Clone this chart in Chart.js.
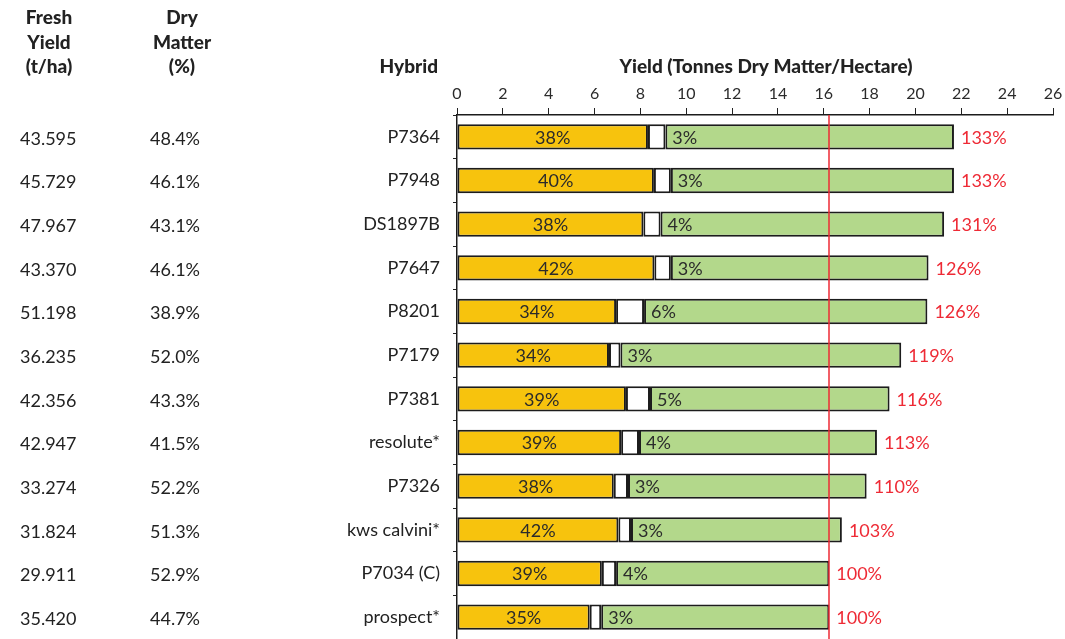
<!DOCTYPE html>
<html>
<head>
<meta charset="utf-8">
<script src="https://cdn.jsdelivr.net/npm/chart.js@4/dist/chart.umd.min.js"></script>
<style>
  html, body { margin: 0; padding: 0; background: #fff; }
  #wrap { width: 1065px; height: 639px; position: relative; }
</style>
</head>
<body>
<div id="wrap"><canvas id="yieldChart"></canvas></div>
<script>
// hybrids, top to bottom
const hybrids = ['P7364', 'P7948', 'DS1897B', 'P7647', 'P8201', 'P7179', 'P7381', 'resolute*', 'P7326', 'kws calvini*', 'P7034 (C)', 'prospect*'];
const freshYield = [43.595, 45.729, 47.967, 43.370, 51.198, 36.235, 42.356, 42.947, 33.274, 31.824, 29.911, 35.420];
const dryMatter = [48.4, 46.1, 43.1, 46.1, 38.9, 52.0, 43.3, 41.5, 52.2, 51.3, 52.9, 44.7];

// bar segments (t DM/ha)
const yellowPart = [8.33, 8.59, 8.13, 8.61, 6.94, 6.63, 7.37, 7.16, 6.84, 7.04, 6.32, 5.79];
const whitePart = [0.76, 0.74, 0.75, 0.72, 1.22, 0.50, 1.05, 0.78, 0.62, 0.55, 0.62, 0.50];
const greenPart = [12.59, 12.35, 12.37, 11.24, 12.36, 12.25, 10.45, 10.38, 10.41, 9.20, 9.30, 9.95];

// labels on the bars
const yellowPct = [38, 40, 38, 42, 34, 34, 39, 39, 38, 42, 39, 35];
const whitePct = [3, 3, 4, 3, 6, 3, 5, 4, 3, 3, 4, 3];
const relYield = [133, 133, 131, 126, 126, 119, 116, 113, 110, 103, 100, 100];

const controlYield = 16.24;
const xTicksMax = 26;

const FONT = 'Lato, "Noto Sans", sans-serif';

const extrasPlugin = {
    id: 'extras',
    afterDatasetsDraw(chart) {
        const ctx = chart.ctx;
        const x = chart.scales.x;
        const area = chart.chartArea;
        const m0 = chart.getDatasetMeta(0);
        const m2 = chart.getDatasetMeta(2);

        ctx.save();
        // control line
        const lx = Math.round(x.getPixelForValue(controlYield));
        ctx.strokeStyle = '#ee2a35';
        ctx.lineWidth = 1.5;
        ctx.beginPath();
        ctx.moveTo(lx, area.top);
        ctx.lineTo(lx, area.bottom);
        ctx.stroke();

        ctx.font = '18px ' + FONT;
        ctx.textBaseline = 'middle';
        hybrids.forEach((h, i) => {
            const yb = m0.data[i];
            const gb = m2.data[i];
            ctx.fillStyle = '#2b2b2b';
            ctx.textAlign = 'center';
            ctx.fillText(yellowPct[i] + '%', (yb.base + yb.x) / 2, yb.y + 1);
            ctx.textAlign = 'left';
            ctx.fillText(whitePct[i] + '%', gb.base + 7, gb.y + 1);
            ctx.fillStyle = '#ee2a35';
            ctx.fillText(relYield[i] + '%', gb.x + 7, gb.y + 1);
        });
        ctx.restore();
    },
    afterDraw(chart) {
        const ctx = chart.ctx;
        const y = chart.scales.y;
        ctx.save();
        ctx.fillStyle = '#222';
        ctx.textBaseline = 'middle';
        ctx.font = '18px ' + FONT;
        hybrids.forEach((h, i) => {
            const py = y.getPixelForValue(i) + 2;
            ctx.textAlign = 'left';
            ctx.fillText(freshYield[i].toFixed(3), 20, py);
            ctx.fillText(dryMatter[i].toFixed(1) + '%', 150, py);
        });

        // headers
        ctx.font = '900 19px ' + FONT;
        ctx.textAlign = 'center';
        ['Fresh', 'Yield', '(t/ha)'].forEach((t, k) => ctx.fillText(t, 49, 18 + k * 24.5));
        ['Dry', 'Matter', '(%)'].forEach((t, k) => ctx.fillText(t, 182, 18 + k * 24.5));
        ctx.textAlign = 'right';
        ctx.fillText('Hybrid', 438, 67);
        ctx.textAlign = 'center';
        ctx.fillText('Yield (Tonnes Dry Matter/Hectare)', 766, 67);
        ctx.restore();
    }
};

const barCommon = {
    borderColor: '#1c1c1c',
    borderWidth: 2,
    borderSkipped: false,
    barPercentage: 0.58,
    categoryPercentage: 1
};

new Chart(document.getElementById('yieldChart').getContext('2d'), {
    type: 'bar',
    data: {
        labels: hybrids,
        datasets: [
            Object.assign({ label: 'Yellow', data: yellowPart, backgroundColor: '#f7c30d' }, barCommon),
            Object.assign({ label: 'White', data: whitePart, backgroundColor: '#ffffff' }, barCommon),
            Object.assign({ label: 'Green', data: greenPart, backgroundColor: '#b3d88b' }, barCommon)
        ]
    },
    options: {
        indexAxis: 'y',
        responsive: true,
        maintainAspectRatio: false,
        animation: false,
        layout: { autoPadding: false, padding: { top: 0, right: 12, bottom: 0, left: 0 } },
        plugins: {
            legend: { display: false },
            tooltip: { enabled: false }
        },
        scales: {
            x: {
                position: 'top',
                stacked: true,
                min: 0,
                max: xTicksMax,
                afterFit(scale) {
                    scale.height = 115;
                    scale.paddingLeft = 0;
                    scale.paddingRight = 0;
                },
                ticks: {
                    stepSize: 2,
                    padding: 5,
                    color: '#2b2b2b',
                    font: { family: FONT, size: 16 }
                },
                grid: { drawOnChartArea: false, tickLength: 7, color: '#222' },
                border: { display: true, color: '#1c1c1c', width: 1.5 }
            },
            y: {
                stacked: true,
                afterFit(scale) {
                    scale.width = 457;
                    scale.paddingTop = 0;
                    scale.paddingBottom = 0;
                },
                ticks: {
                    padding: 13,
                    color: '#222',
                    font: { family: FONT, size: 18 }
                },
                grid: { drawOnChartArea: false, tickLength: 4, color: '#222', offset: true },
                border: { display: true, color: '#1c1c1c', width: 1.5 }
            }
        }
    },
    plugins: [extrasPlugin]
});
</script>
</body>
</html>
